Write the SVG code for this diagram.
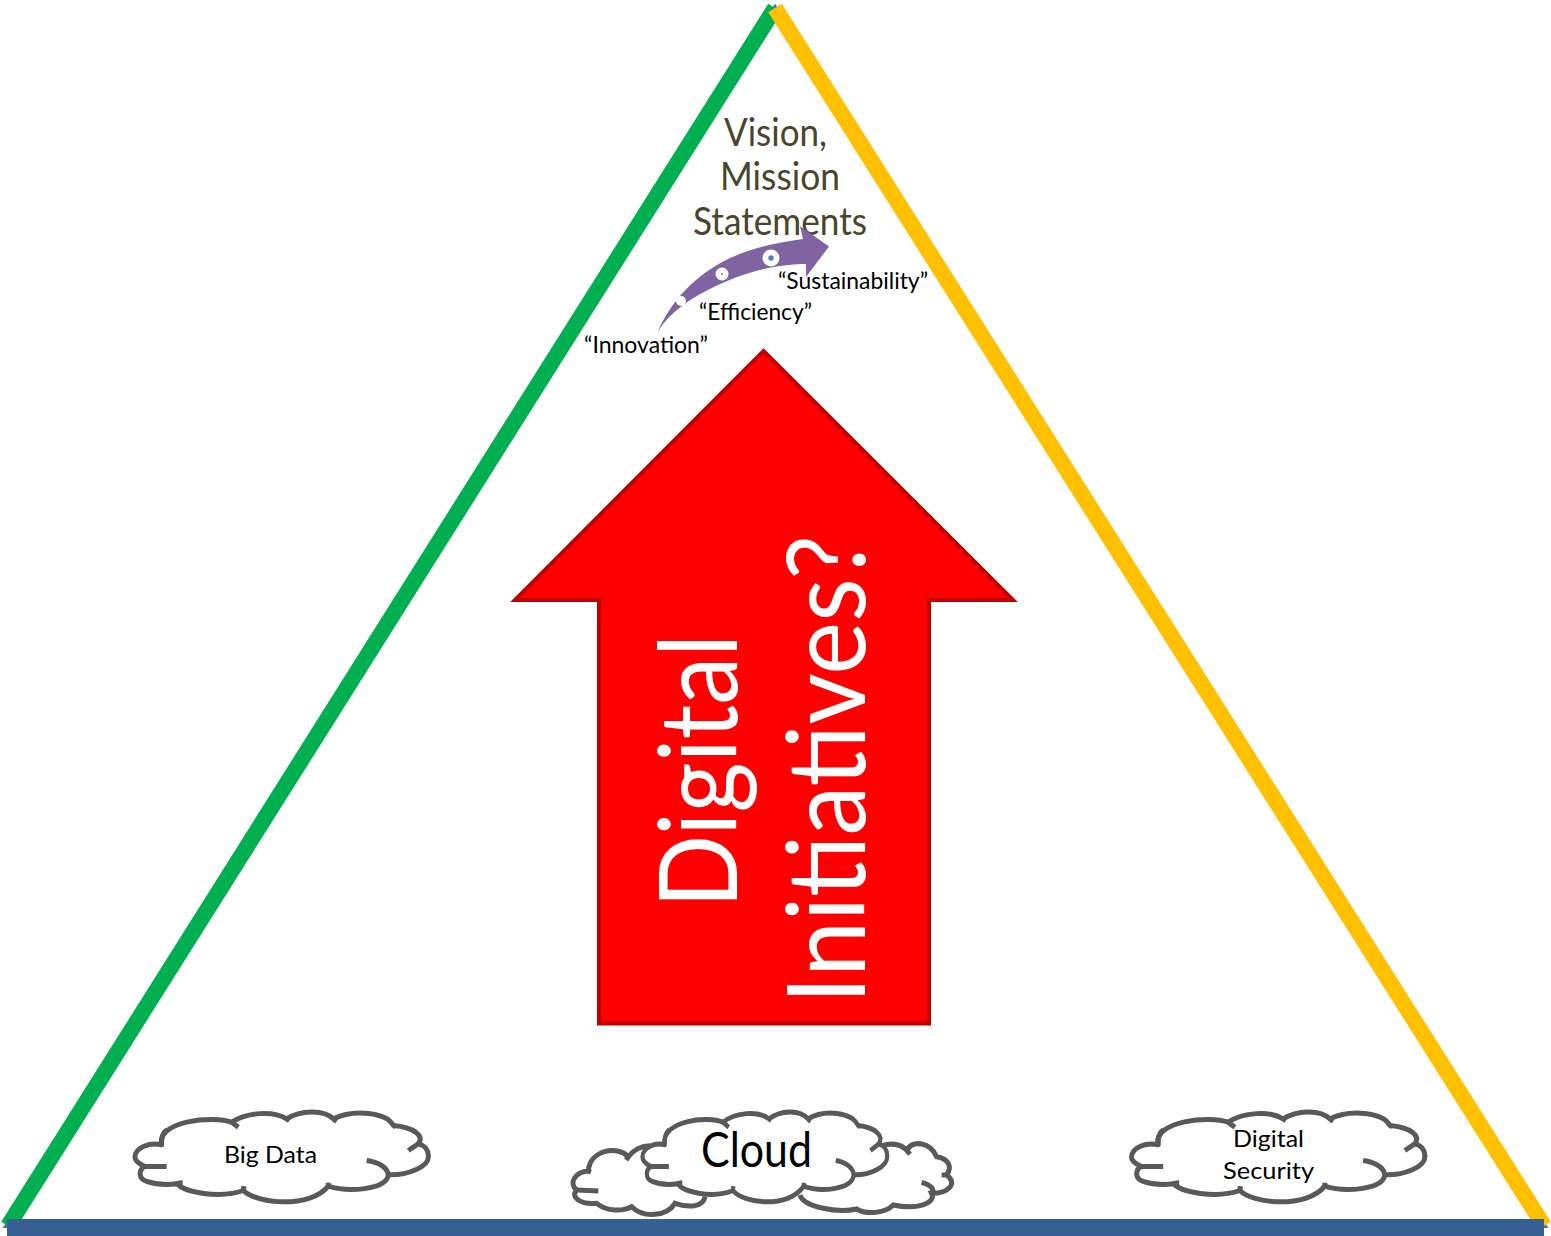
<svg xmlns="http://www.w3.org/2000/svg" width="1551" height="1236" viewBox="0 0 1551 1236">
<style>
text{font-family:"Lato","Carlito","Liberation Sans",sans-serif}
.c{fill:#fff;stroke:#595959;stroke-width:15;stroke-linejoin:round;stroke-linecap:butt}
.o{fill:none;stroke:#595959;stroke-width:15}
.l{fill:#000;font-size:24px}
.v{fill:#4a452a;font-size:38px;font-weight:400}
.w{fill:#fff;font-size:108px;font-weight:400}
.s{fill:none;stroke-width:16;stroke-linecap:butt}
</style>
<defs>
<g id="cloudShape">
<path class="c" d="M125 148C90 140 45 155 45 185C45 200 65 208 75 213C55 222 55 250 80 258C110 268 150 268 172 265C190 290 300 310 370 285C410 325 570 340 625 272C680 290 800 285 805 238C860 240 930 215 925 180C925 165 915 150 895 145C915 120 880 95 820 90C800 50 700 40 640 70C610 40 540 45 500 70C460 45 380 50 335 80C280 60 110 75 125 148Z"/>
<path class="o" d="M125 148C122 130 130 110 140 103M140 213H75M172 265C165 265 175 262 188 262M370 285L372 272M625 272L625 262M805 238C802 215 775 200 740 195M895 145L865 165M820 90C822 90 825 92 828 96M640 70L650 78M500 70L508 76M335 80L355 95"/>
</g>
</defs>
<g id="frame">
<polygon points="775,9 1543,1225 8,1225" fill="none" stroke="#4f6fa8" stroke-width="6"/>
<line class="s" x1="8" y1="1226" x2="775" y2="8" stroke="#00b050"/>
<line class="s" x1="775" y1="8" x2="1544" y2="1226" stroke="#ffc000"/>
<rect x="7" y="1219" width="1537" height="17" fill="#376092"/>
</g>
<g id="digital-initiatives">
<polygon points="763.5,351 1013,600 929,600 929,1023.500 599,1023.500 599,600 515,600" fill="#ff0000" stroke="#c00000" stroke-width="4"/>
<text class="w" transform="translate(737 908) rotate(-90)" textLength="274" lengthAdjust="spacingAndGlyphs">Digital</text>
<text class="w" transform="translate(865 1004) rotate(-90)" textLength="469" lengthAdjust="spacingAndGlyphs">Initiatives?</text>
</g>
<g id="vision">
<text class="v" x="724" y="146" textLength="103" lengthAdjust="spacingAndGlyphs">Vision,</text>
<text class="v" x="720" y="190" textLength="120" lengthAdjust="spacingAndGlyphs">Mission</text>
<text class="v" x="693" y="235" textLength="174" lengthAdjust="spacingAndGlyphs">Statements</text>
</g>
<g id="progress-arrow">
<path fill="#8064a2" d="M657.5 332C672 300 695 275 730 258C755 247 780 242 803 239L800 226L829 246.500L806 277L806 264C785 264 755 268 718 285C690 298 670 312 657.500 332Z"/>
<circle cx="681" cy="301" r="5" fill="#fff"/>
<circle cx="722" cy="274" r="6.500" fill="#fff"/>
<circle cx="722" cy="274" r="1" fill="#4f81bd"/>
<circle cx="771" cy="258" r="8.500" fill="#fff"/>
<circle cx="771" cy="258" r="2.700" fill="#4f81bd"/>
</g>
<g id="label-innovation"><text class="l" x="584" y="353" textLength="124" lengthAdjust="spacingAndGlyphs">“Innovation”</text></g>
<g id="label-efficiency"><text class="l" x="699" y="320" textLength="113" lengthAdjust="spacingAndGlyphs">“Efficiency”</text></g>
<g id="label-sustainability"><text class="l" x="778" y="289" textLength="150" lengthAdjust="spacingAndGlyphs">“Sustainability”</text></g>
<g id="cloud-big-data">
<use href="#cloudShape" transform="translate(120 1095.500) scale(.3333)"/>
<text class="l" x="224" y="1163" textLength="93" lengthAdjust="spacingAndGlyphs">Big Data</text>
</g>
<g id="cloud-back">
<g transform="translate(560 1095) scale(.3333)">
<path class="o" d="M270 152C245 152 220 165 205 185C170 150 90 165 85 228C45 230 25 265 50 285C30 305 60 330 110 325C140 350 190 350 215 335C250 370 320 365 345 325C390 340 430 335 435 305"/>
<path class="o" d="M720 300C730 335 830 355 890 342C920 360 975 355 1000 330C1070 345 1130 325 1115 295C1165 295 1195 265 1160 240C1178 215 1165 190 1130 185C1110 140 1060 135 1040 165C1020 145 990 145 965 152"/>
<path class="o" d="M1145 240L1160 240M1085 262C1115 270 1125 285 1115 295M1040 165L1050 178M205 185L198 195M85 228L92 232M50 285L115 288"/>
</g>
</g>
<g id="cloud-cloud">
<use href="#cloudShape" transform="translate(630 1095.500) scale(.2780 .3333)"/>
<text x="701" y="1167" font-size="48" fill="#000" textLength="111" lengthAdjust="spacingAndGlyphs">Cloud</text>
</g>
<g id="cloud-digital-security">
<use href="#cloudShape" transform="translate(1116.500 1095.500) scale(.3333)"/>
<text class="l" x="1233" y="1147" textLength="71" lengthAdjust="spacingAndGlyphs">Digital</text>
<text class="l" x="1223" y="1179" textLength="91" lengthAdjust="spacingAndGlyphs">Security</text>
</g>
</svg>
